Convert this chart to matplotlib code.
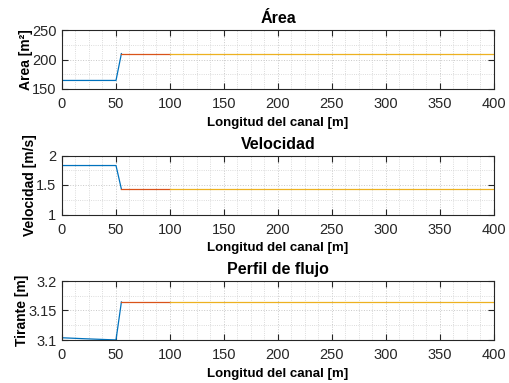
import numpy as np
import matplotlib.pyplot as plt
from matplotlib.ticker import MultipleLocator, FormatStrFormatter

plt.rcParams['font.family'] = ['Liberation Sans', 'DejaVu Sans']

# tramo 1 (aguas arriba, azul)
x1 = [0, 10, 20, 30, 40, 50, 55]
area1 = [164.5, 164.5, 164.5, 164.5, 164.5, 164.5, 210.0]
vel1 = [1.83, 1.83, 1.83, 1.83, 1.83, 1.83, 1.43]
tir1 = [3.1038, 3.1030, 3.1022, 3.1015, 3.1008, 3.1001, 3.1645]

# tramo 2 (rojo)
x2 = [55, 100]
area2 = [210.0, 210.0]
vel2 = [1.43, 1.43]
tir2 = [3.1645, 3.1645]

# tramo 3 (amarillo)
x3 = [100, 400]
area3 = [210.0, 210.0]
vel3 = [1.43, 1.43]
tir3 = [3.1645, 3.1645]

titles = ['Área', 'Velocidad', 'Perfil de flujo']
ylabels = ['Area [m²]', 'Velocidad [m/s]', 'Tirante [m]']
ylims = [(150, 250), (1, 2), (3.1, 3.2)]
ymajor = [50, 0.5, 0.05]
series = [(area1, area2, area3), (vel1, vel2, vel3), (tir1, tir2, tir3)]

colors = ['#0072BD', '#D95319', '#EDB120']
W, H = 510, 383
fig = plt.figure(figsize=(W / 100, H / 100), dpi=100)

tops = [30, 155.5, 281]
for i in range(3):
    top = tops[i]
    ax = fig.add_axes([62 / W, 1 - (top + 59) / H, 432 / W, 59 / H])
    s1, s2, s3 = series[i]
    ax.plot(x1, s1, color=colors[0], lw=0.9)
    ax.plot(x2, s2, color=colors[1], lw=0.9)
    ax.plot(x3, s3, color=colors[2], lw=0.9)
    ax.set_xlim(0, 400)
    ax.set_ylim(*ylims[i])
    ax.xaxis.set_major_locator(MultipleLocator(50))
    ax.xaxis.set_minor_locator(MultipleLocator(12.5))
    ax.yaxis.set_major_locator(MultipleLocator(ymajor[i]))
    ax.yaxis.set_minor_locator(MultipleLocator(ymajor[i] / 2))
    ax.yaxis.set_major_formatter(FormatStrFormatter('%g'))
    ax.grid(True, which='major', color='#c8c8c8', ls=':', lw=0.7)
    ax.grid(True, which='minor', color='#d0d0d0', ls=':', lw=0.6)
    ax.tick_params(which='major', direction='in', top=True, right=True,
                   length=4, width=0.8, labelsize=10.5, colors='#262626')
    ax.tick_params(axis='x', which='major', pad=6)
    ax.tick_params(axis='y', which='major', pad=4)
    ax.tick_params(which='minor', length=0)
    for sp in ax.spines.values():
        sp.set_color('#262626')
        sp.set_linewidth(0.8)
    ax.set_title(titles[i], fontsize=11.5, fontweight='bold', pad=5)
    ax.set_xlabel('Longitud del canal [m]', fontsize=9.5, fontweight='bold', labelpad=4)
    ax.set_ylabel(ylabels[i], fontsize=10, fontweight='bold', labelpad=-0.5)

fig.savefig('out.png', dpi=100)
